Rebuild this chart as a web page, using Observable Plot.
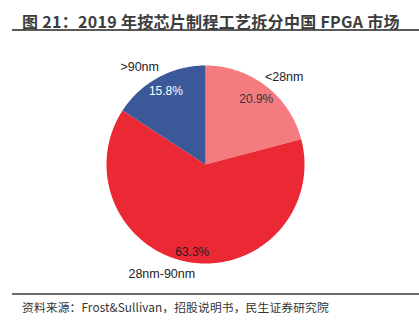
<!DOCTYPE html>
<html><head><meta charset="utf-8">
<script src="https://cdn.jsdelivr.net/npm/d3@7"></script>
<script src="https://cdn.jsdelivr.net/npm/@observablehq/plot@0.6"></script>
<style>
body{margin:0;width:419px;height:334px;background:#fff;overflow:hidden;font-family:"Noto Sans CJK SC",sans-serif;}
#title{margin-left:12px;height:31px;box-sizing:border-box;padding-left:10px;padding-top:10px;line-height:22px;font-size:16px;font-weight:bold;color:#3c3c3c;border-bottom:2px solid #5a5a5a;white-space:nowrap;letter-spacing:0.3px;}
#chart{height:262px;}
#src{margin-left:12px;border-top:2px solid #6a6a6a;padding-left:10px;padding-top:4px;font-size:11.8px;line-height:16px;color:#333;white-space:nowrap;letter-spacing:0.1px;}
</style></head>
<body>
<div id="title">图 21：2019 年按芯片制程工艺拆分中国 FPGA 市场</div>
<div id="chart"></div>
<div id="src">资料来源：Frost&amp;Sullivan，招股说明书，民生证券研究院</div>
<script>
const categories = ["<28nm", "28nm-90nm", ">90nm"];
const shares = [20.9, 63.3, 15.8];
const pctLabels = ["20.9%", "63.3%", "15.8%"];
const colors = ["#F47B80", "#EA2935", "#3B5998"];
const pctColors = ["#333333", "#2a1a1a", "#ffffff"];

const arcs = d3.pie().sort(null).value(d => d)(shares);
const pts = [];
arcs.forEach((a, i) => {
  const cat = categories[i];
  pts.push({cat, x: 0, y: 0});
  const n = Math.max(2, Math.ceil((a.endAngle - a.startAngle) / 0.01));
  for (let k = 0; k <= n; k++) {
    const t = a.startAngle + (a.endAngle - a.startAngle) * k / n;
    pts.push({cat, x: Math.sin(t), y: Math.cos(t)});
  }
});
const mid = a => (a.startAngle + a.endAngle) / 2;
const labels = arcs.map((a, i) => ({
  cat: categories[i], pct: pctLabels[i], col: pctColors[i],
  ix: 0.84 * Math.sin(mid(a)), iy: 0.84 * Math.cos(mid(a)),
  ox: 1.12 * Math.sin(mid(a)), oy: 1.12 * Math.cos(mid(a))
}));
const outDx = {"<28nm": 11, "28nm-90nm": -26, ">90nm": -13};
const inDy = {"<28nm": 1, "28nm-90nm": 6, ">90nm": 0};

const chart = Plot.plot({
  width: 419, height: 262, margin: 0,
  x: {domain: [-1, 1], range: [106, 304], axis: null},
  y: {domain: [-1, 1], range: [232, 34], axis: null},
  color: {domain: categories, range: colors},
  style: {background: "transparent"},
  marks: [
    Plot.line(pts, {x: "x", y: "y", z: "cat", fill: "cat", stroke: "none", curve: "linear"}),
    ...categories.map(c => Plot.text(labels.filter(d => d.cat === c), {x: "ix", y: "iy", text: "pct", fill: d => d.col, fontSize: 12, fontFamily: "Liberation Sans", dy: inDy[c]})),
    ...categories.map(c => Plot.text(labels.filter(d => d.cat === c), {x: "ox", y: "oy", text: "cat", fill: "#222", fontSize: 12.5, fontFamily: "Liberation Sans", dx: outDx[c]}))
  ]
});
document.getElementById("chart").appendChild(chart);
</script>
</body></html>
